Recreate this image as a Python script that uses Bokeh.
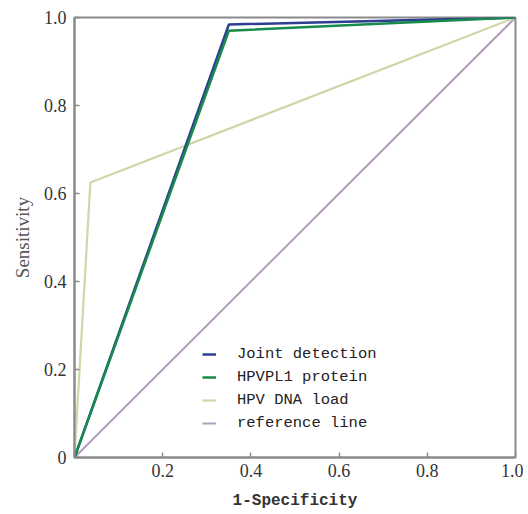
from bokeh.plotting import figure
from bokeh.models import Range1d, FixedTicker, Legend, LegendItem
from bokeh.embed import file_html
from bokeh.resources import INLINE

# Data
joint_x = [0.0, 0.35, 1.0]
joint_y = [0.0, 0.984, 1.0]
pl1_x = [0.0, 0.35, 1.0]
pl1_y = [0.0, 0.97, 1.0]
dna_x = [0.0, 0.036, 1.0]
dna_y = [0.0, 0.625, 1.0]
ref_x = [0.0, 1.0]
ref_y = [0.0, 1.0]
ticks = [0, 0.2, 0.4, 0.6, 0.8, 1.0]
y_labels = ["0", "0.2", "0.4", "0.6", "0.8", "1.0"]
x_labels = ["", "0.2", "0.4", "0.6", "0.8", "1.0"]

p = figure(width=523, height=512, output_backend="svg", toolbar_location=None,
           x_range=Range1d(0, 1), y_range=Range1d(0, 1),
           min_border_left=74, min_border_right=8, min_border_top=17, min_border_bottom=55)
p.grid.visible = False
p.outline_line_color = "#8a8a8a"
p.outline_line_width = 2

for ax in (p.xaxis[0], p.yaxis[0]):
    ax.ticker = FixedTicker(ticks=ticks)
    ax.axis_line_color = "#8a8a8a"
    ax.axis_line_width = 2
    ax.major_tick_in = 5
    ax.major_tick_out = 0
    ax.major_tick_line_color = "#8a8a8a"
    ax.major_tick_line_width = 1.5
    ax.minor_tick_line_color = None
    ax.major_label_text_font = "Liberation Serif"
    ax.major_label_text_font_size = "18px"
    ax.major_label_text_color = "#333333"

p.yaxis[0].major_label_overrides = {t: l for t, l in zip(ticks, y_labels)}
p.xaxis[0].major_label_overrides = {t: l for t, l in zip(ticks, x_labels)}
p.yaxis[0].major_label_standoff = 8
p.xaxis[0].major_label_standoff = 6

p.yaxis[0].axis_label = "Sensitivity"
p.yaxis[0].axis_label_text_font = "Liberation Serif"
p.yaxis[0].axis_label_text_font_size = "19px"
p.yaxis[0].axis_label_text_font_style = "normal"
p.yaxis[0].axis_label_text_color = "#555555"
p.yaxis[0].axis_label_standoff = 8

p.xaxis[0].axis_label = "1-Specificity"
p.xaxis[0].axis_label_text_font = "Liberation Mono"
p.xaxis[0].axis_label_text_font_size = "16px"
p.xaxis[0].axis_label_text_font_style = "bold"
p.xaxis[0].axis_label_text_color = "#333333"
p.xaxis[0].axis_label_standoff = 12

r_ref = p.line(ref_x, ref_y, line_color="#b39cbc", line_width=2)
r_dna = p.line(dna_x, dna_y, line_color="#cdd8a8", line_width=2.2)
r_joint = p.line(joint_x, joint_y, line_color="#2c3f91", line_width=2.5)
r_pl1 = p.line(pl1_x, pl1_y, line_color="#178a4c", line_width=2.5)

legend = Legend(items=[
    LegendItem(label="Joint detection", renderers=[r_joint]),
    LegendItem(label="HPVPL1 protein", renderers=[r_pl1]),
    LegendItem(label="HPV DNA load", renderers=[r_dna]),
    LegendItem(label="reference line", renderers=[r_ref]),
], location=(128, 24))
legend.label_text_font = "Liberation Mono"
legend.label_text_font_size = "15.5px"
legend.label_text_color = "#222222"
legend.border_line_color = None
legend.background_fill_alpha = 0
legend.glyph_width = 14
legend.label_standoff = 21
legend.spacing = 3
legend.padding = 0
legend.margin = 0
legend.label_height = 20
legend.glyph_height = 20
p.add_layout(legend)

open("out.html", "w").write(file_html(p, INLINE))
